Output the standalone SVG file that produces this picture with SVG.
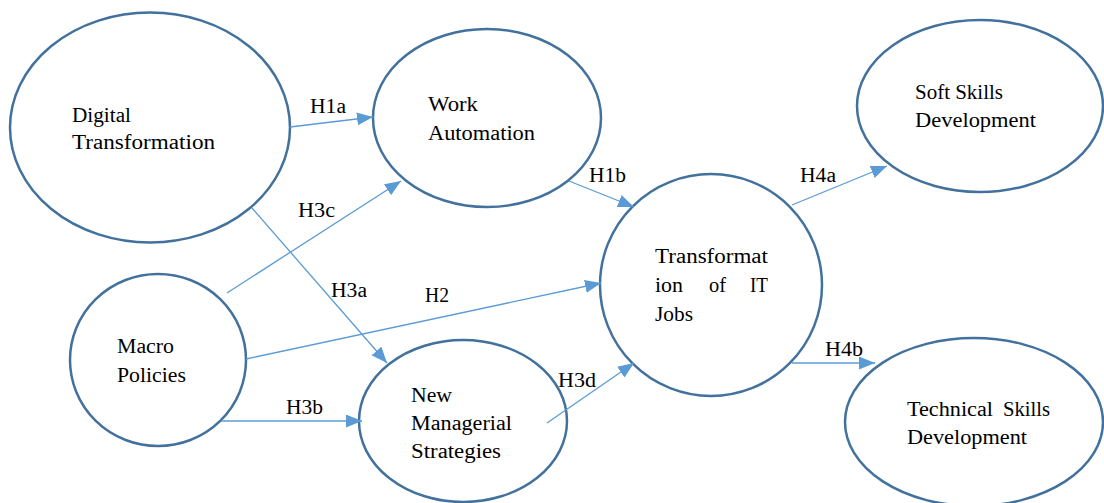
<svg xmlns="http://www.w3.org/2000/svg" width="1104" height="503" viewBox="0 0 1104 503">
<style>
.node{fill:#ffffff;stroke:#41719C;stroke-width:2.5}
.t{font-family:"Liberation Serif","Times New Roman",serif;font-size:20px;fill:#000000}
.lbl{font-family:"Liberation Serif","Times New Roman",serif;font-size:20px;fill:#000000}
.c{stroke:#5B9BD5;stroke-width:1.3;fill:none;marker-end:url(#ah)}
</style>
<defs>
<marker id="ah" markerUnits="userSpaceOnUse" markerWidth="17" markerHeight="14" refX="16" refY="6.5" orient="auto">
<path d="M0,0 L16,6.5 L0,13 z" fill="#5B9BD5"/>
</marker>
</defs>
<rect width="1104" height="503" fill="#ffffff"/>
<g id="digital-transformation">
<ellipse class="node" cx="150" cy="127.5" rx="140" ry="115"/>
<text class="t" x="72" y="122" textLength="59" lengthAdjust="spacingAndGlyphs">Digital</text>
<text class="t" x="72" y="149" textLength="143" lengthAdjust="spacingAndGlyphs">Transformation</text>
</g>
<g id="work-automation">
<ellipse class="node" cx="487" cy="118" rx="114" ry="89"/>
<text class="t" x="428" y="111" textLength="50" lengthAdjust="spacingAndGlyphs">Work</text>
<text class="t" x="428" y="140" textLength="107" lengthAdjust="spacingAndGlyphs">Automation</text>
</g>
<g id="soft-skills">
<ellipse class="node" cx="980" cy="106" rx="123" ry="86"/>
<text class="t" x="915" y="99" textLength="88" lengthAdjust="spacingAndGlyphs">Soft Skills</text>
<text class="t" x="915" y="127" textLength="121" lengthAdjust="spacingAndGlyphs">Development</text>
</g>
<g id="transformation-it-jobs">
<ellipse class="node" cx="711" cy="285" rx="111" ry="111"/>
<text class="t" x="655" y="263" textLength="113" lengthAdjust="spacingAndGlyphs">Transformat</text>
<text class="t" x="655" y="292" textLength="28" lengthAdjust="spacingAndGlyphs">ion</text>
<text class="t" x="709" y="292" textLength="17" lengthAdjust="spacingAndGlyphs">of</text>
<text class="t" x="750" y="292" textLength="18" lengthAdjust="spacingAndGlyphs">IT</text>
<text class="t" x="655" y="321" textLength="38" lengthAdjust="spacingAndGlyphs">Jobs</text>
</g>
<g id="macro-policies">
<ellipse class="node" cx="158" cy="360" rx="88" ry="86"/>
<text class="t" x="117" y="353" textLength="57" lengthAdjust="spacingAndGlyphs">Macro</text>
<text class="t" x="117" y="382" textLength="69" lengthAdjust="spacingAndGlyphs">Policies</text>
</g>
<g id="new-managerial-strategies">
<ellipse class="node" cx="463" cy="421" rx="104" ry="81"/>
<text class="t" x="411" y="402" textLength="41" lengthAdjust="spacingAndGlyphs">New</text>
<text class="t" x="411" y="430" textLength="101" lengthAdjust="spacingAndGlyphs">Managerial</text>
<text class="t" x="411" y="458" textLength="90" lengthAdjust="spacingAndGlyphs">Strategies</text>
</g>
<g id="technical-skills">
<ellipse class="node" cx="974" cy="422" rx="129" ry="84"/>
<text class="t" x="907" y="416" textLength="86" lengthAdjust="spacingAndGlyphs">Technical</text>
<text class="t" x="1003" y="416" textLength="47" lengthAdjust="spacingAndGlyphs">Skills</text>
<text class="t" x="907" y="444" textLength="120" lengthAdjust="spacingAndGlyphs">Development</text>
</g>
<g id="connectors">
<line class="c" x1="290" y1="127" x2="373" y2="117"/>
<line class="c" x1="227" y1="293" x2="401" y2="181"/>
<line class="c" x1="252" y1="208" x2="387" y2="363"/>
<line class="c" x1="246" y1="359" x2="601" y2="283"/>
<line class="c" x1="221" y1="421" x2="362" y2="421"/>
<line class="c" x1="547" y1="423" x2="634" y2="363"/>
<line class="c" x1="569" y1="181" x2="634" y2="207"/>
<line class="c" x1="792" y1="205" x2="887" y2="166"/>
<line class="c" x1="792" y1="363" x2="875" y2="363"/>
<text class="lbl" x="310" y="113" textLength="36" lengthAdjust="spacingAndGlyphs">H1a</text>
<text class="lbl" x="298" y="217" textLength="37" lengthAdjust="spacingAndGlyphs">H3c</text>
<text class="lbl" x="331" y="297" textLength="36" lengthAdjust="spacingAndGlyphs">H3a</text>
<text class="lbl" x="425" y="302" textLength="24" lengthAdjust="spacingAndGlyphs">H2</text>
<text class="lbl" x="286" y="414" textLength="37" lengthAdjust="spacingAndGlyphs">H3b</text>
<text class="lbl" x="558" y="387" textLength="38" lengthAdjust="spacingAndGlyphs">H3d</text>
<text class="lbl" x="589" y="182" textLength="37" lengthAdjust="spacingAndGlyphs">H1b</text>
<text class="lbl" x="800" y="182" textLength="36" lengthAdjust="spacingAndGlyphs">H4a</text>
<text class="lbl" x="825" y="356" textLength="38" lengthAdjust="spacingAndGlyphs">H4b</text>
</g>
</svg>
